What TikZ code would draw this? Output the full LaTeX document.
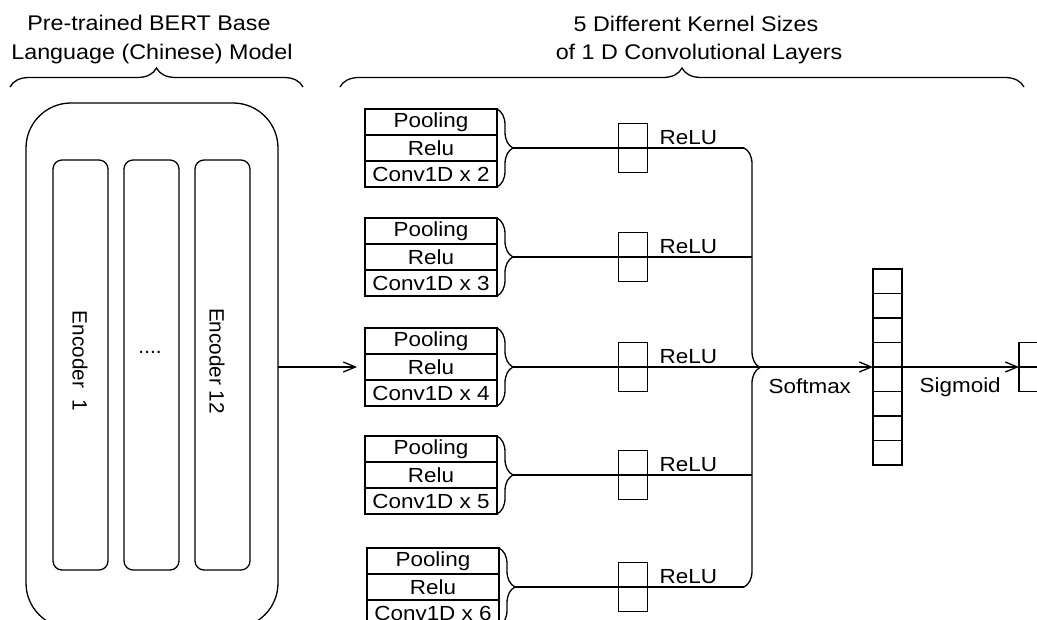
\documentclass[tikz,border=0pt]{standalone}
\usepackage{fontspec}
\setmainfont{Liberation Sans}
\usepackage{graphicx}
\usetikzlibrary{arrows.meta,decorations.pathreplacing,calc}
\newcommand{\sx}[1]{\scalebox{1.1}[1]{#1}}
\newcommand{\bfnt}{\fontsize{20.4}{23}\selectfont}
\newcommand{\tfnt}{\fontsize{21.2}{24}\selectfont}
\newcommand{\efnt}{\fontsize{20.7}{24}\selectfont}
\begin{document}
\begin{tikzpicture}[x=1pt,y=1pt,line width=1.3pt,
  cell/.style={draw, minimum width=132pt, minimum height=26pt, inner sep=0pt, outer sep=0pt, font=\bfnt},
  relubox/.style={draw, minimum width=29pt, minimum height=49pt, inner sep=0pt, outer sep=0pt},
  vcell/.style={draw, minimum width=29pt, minimum height=24.5pt, inner sep=0pt, outer sep=0pt},
  lbl/.style={inner sep=0pt, font=\bfnt},
  ttl/.style={inner sep=0pt, font=\tfnt},
  brc/.style={decorate, decoration={brace, amplitude=16pt}},
  bigbrc/.style={decorate, decoration={brace, amplitude=19pt}},
  arr/.style={-{Straight Barb[length=12pt,width=10pt]}},
  encbox/.style={draw, rounded corners=9pt, minimum width=55pt, minimum height=410pt, anchor=north west, inner sep=0pt, outer sep=0pt}
]
\useasboundingbox (0,0) rectangle (1037,-620);
\clip (0,0) rectangle (1037,-620);

% titles
\node[ttl, anchor=base] (ta) at (149,-31) {\sx{Pre-trained BERT Base}};
\node[ttl, anchor=base] (tb) at (152,-60) {\sx{Language (Chinese) Model}};
\node[ttl, anchor=base] (tc) at (696,-32) {\sx{5 Different Kernel Sizes}};
\node[ttl, anchor=base] (td) at (699,-60) {\sx{of 1 D Convolutional Layers}};

% top braces
\coordinate (lb1) at (10,-87);
\coordinate (lb2) at (303,-87);
\coordinate (rb1) at (340,-87);
\coordinate (rb2) at (1024,-87);
\draw[bigbrc] (lb1) -- (lb2);
\draw[bigbrc] (rb1) -- (rb2);

% BERT model
\node[draw, rounded corners=45pt, minimum width=252pt, minimum height=525pt, anchor=north west, inner sep=0pt, outer sep=0pt] (model) at (26,-103) {};
\node[encbox] (e1) at (53,-160) {};
\node[encbox] (e2) at (124,-160) {};
\node[encbox] (e3) at (195,-160) {};
\node[rotate=-90, inner sep=0pt, font=\efnt] (e1t) at (80,-361) {Encoder~~1};
\node[inner sep=0pt, font=\efnt] (e2t) at (150,-352) {....};
\node[rotate=-90, inner sep=0pt, font=\efnt] (e3t) at (217,-361) {Encoder 12};

% conv blocks
\foreach \i/\y/\x/\k in {1/148/365/2, 2/257/365/3, 3/367/365/4, 4/475/365/5, 5/587/367/6}{
  \node[cell, anchor=west] (r\i) at (\x,-\y) {\sx{Relu}};
  \node[cell, anchor=south] (p\i) at (r\i.north) {\sx{Pooling}};
  \node[cell, anchor=north] (c\i) at (r\i.south) {\sx{Conv1D x \k}};
  \draw[brc] (p\i.north east) -- (c\i.south east);
  \coordinate (t\i) at ([xshift=16pt]r\i.east);
  \node[relubox] (u\i) at (633,-\y) {};
  \node[lbl, anchor=base west] (l\i) at (659,{-\y+3.5}) {\sx{ReLU}};
}

% softmax vector
\foreach \j in {1,...,8}{
  \node[vcell, anchor=north west] (s\j) at (873,{-269-24.5*(\j-1)}) {};
}
\node[relubox] (out) at (1033.5,-367) {};

% merging brace
\coordinate (bt) at (744,-148);
\coordinate (bb) at (744,-587);
\draw[brc] (bt) -- (bb);

% connectors
\draw (t1) -- (u1.west) -- (u1.east) -- (bt);
\draw (t5) -- (u5.west) -- (u5.east) -- (bb);
\draw (t2) -- (u2.west) -- (u2.east) -- (752,-257);
\draw (t4) -- (u4.west) -- (u4.east) -- (752,-475);
\draw (t3) -- (u3.west) -- (u3.east);
\draw[arr] (u3.east) -- (s4.south west);
\draw[arr] (s4.south east) -- (out.west);
\draw (out.west) -- (out.east);
\draw[arr, shorten >=8pt] (model.east |- r3.west) -- (r3.west);

% labels
\node[lbl, anchor=base west] (softmax) at (768,-394) {\sx{Softmax}};
\node[lbl, anchor=base west] (sigmoid) at (919,-393) {\sx{Sigmoid}};
\end{tikzpicture}
\end{document}
